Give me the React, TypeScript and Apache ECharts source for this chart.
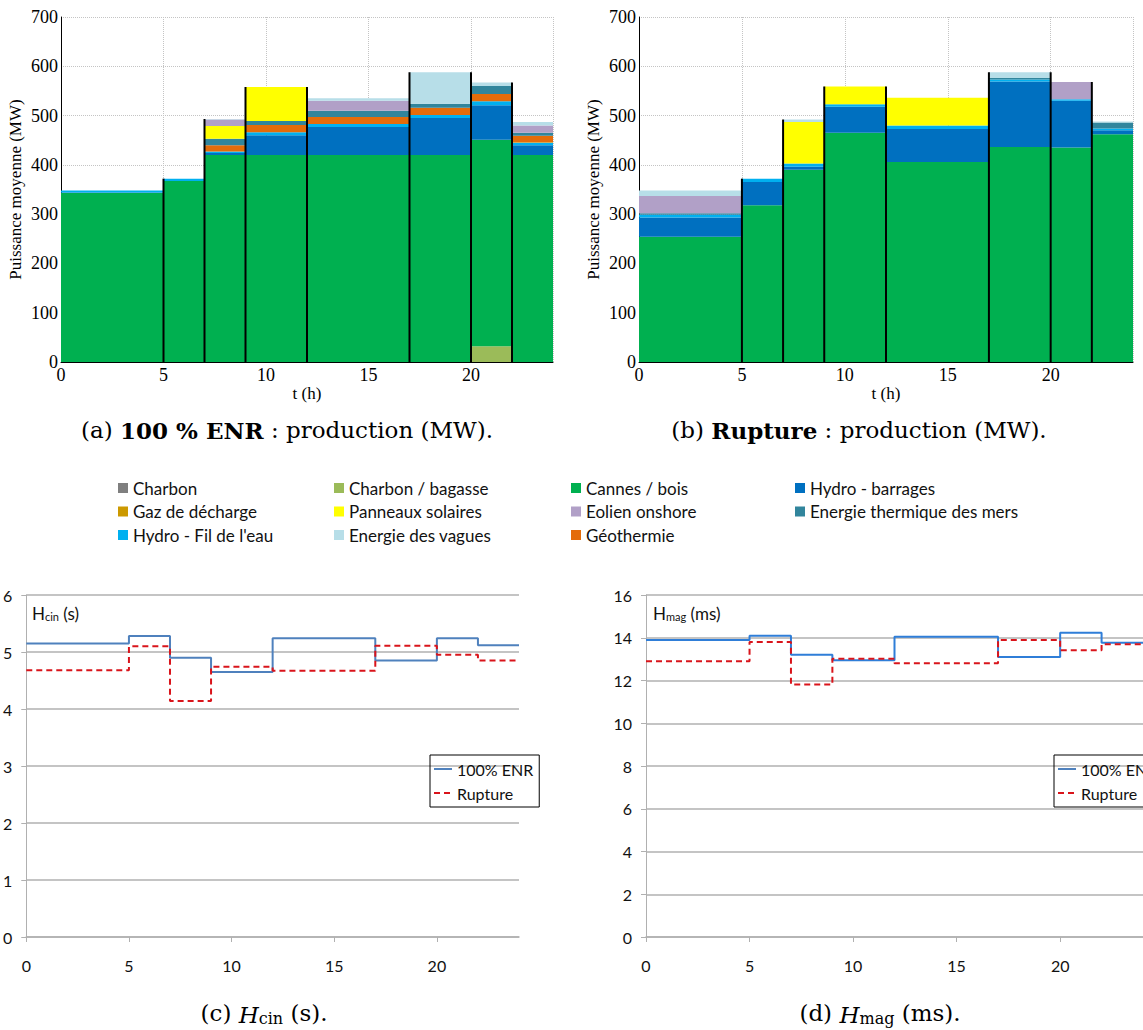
import React, { useEffect, useRef } from "react";
import * as echarts from "echarts";

// Period boundaries (h)
const hours = [0, 5, 7, 9, 12, 17, 20, 22, 24];

// Stack order (bottom -> top)
const energies = [
  "Charbon",
  "Charbon / bagasse",
  "Cannes / bois",
  "Hydro - barrages",
  "Hydro - Fil de l'eau",
  "Gaz de décharge",
  "Géothermie",
  "Energie thermique des mers",
  "Panneaux solaires",
  "Eolien onshore",
  "Energie des vagues",
];

// (a) 100 % ENR production (MW) per period
const enrCharbon = [0, 0, 0, 0, 0, 0, 0, 0];
const enrBagasse = [0, 0, 0, 0, 0, 0, 32, 0];
const enrCannes = [343, 367, 420, 420, 420, 420, 419, 420];
const enrBarrages = [1, 0, 4, 40, 57, 75, 70, 20];
const enrFil = [4, 5, 3, 6, 6, 6, 8, 5];
const enrGaz = [0, 0, 0, 0, 0, 0, 0, 1];
const enrGeo = [0, 0, 13, 15, 14, 15, 15, 13];
const enrEtm = [0, 0, 13, 8, 13, 8, 16, 6];
const enrSolaire = [0, 0, 26, 69, 0, 0, 0, 0];
const enrEolien = [0, 0, 13, 0, 20, 0, 0, 15];
const enrVagues = [0, 0, 1, 0, 5, 64, 7, 7];

// (b) Rupture production (MW) per period
const rupCharbon = [0, 0, 0, 0, 0, 0, 0, 0];
const rupBagasse = [0, 0, 0, 0, 0, 0, 0, 0];
const rupCannes = [254, 318, 390, 465, 406, 436, 435, 462];
const rupBarrages = [39, 47, 6, 53, 67, 133, 95, 8];
const rupFil = [6, 7, 7, 5, 7, 4, 3, 4];
const rupGaz = [0, 0, 0, 0, 0, 0, 0, 0];
const rupGeo = [0, 0, 0, 0, 0, 0, 0, 0];
const rupEtm = [3, 0, 0, 0, 0, 3, 0, 12];
const rupSolaire = [0, 0, 84, 36, 56, 0, 0, 0];
const rupEolien = [35, 0, 0, 0, 0, 0, 35, 0];
const rupVagues = [11, 0, 5, 0, 0, 12, 0, 2];

// (c) H_cin (s)
const hcinEnr = [5.15, 5.28, 4.9, 4.65, 5.24, 4.85, 5.24, 5.12];
const hcinRup = [4.68, 5.1, 4.14, 4.74, 4.67, 5.11, 4.95, 4.85];
// (d) H_mag (ms)
const hmagEnr = [13.89, 14.09, 13.2, 12.95, 14.05, 13.1, 14.23, 13.77];
const hmagRup = [12.9, 13.8, 11.81, 13.02, 12.81, 13.89, 13.42, 13.7];

// Legend layout (columns)
const legendCol1 = ["Charbon", "Gaz de décharge", "Hydro - Fil de l'eau"];
const legendCol2 = ["Charbon / bagasse", "Panneaux solaires", "Energie des vagues"];
const legendCol3 = ["Cannes / bois", "Eolien onshore", "Géothermie"];
const legendCol4 = ["Hydro - barrages", "Energie thermique des mers"];

const energyColors: Record<string, string> = {
  Charbon: "#7f7f7f",
  "Charbon / bagasse": "#9bbb59",
  "Cannes / bois": "#00b050",
  "Hydro - barrages": "#0070c0",
  "Hydro - Fil de l'eau": "#00b0f0",
  "Gaz de décharge": "#cc9900",
  "Géothermie": "#e46c0a",
  "Energie thermique des mers": "#31859c",
  "Panneaux solaires": "#ffff00",
  "Eolien onshore": "#b1a0c7",
  "Energie des vagues": "#b7dee8",
};

const enrLayers = [enrCharbon, enrBagasse, enrCannes, enrBarrages, enrFil, enrGaz, enrGeo, enrEtm, enrSolaire, enrEolien, enrVagues];
const rupLayers = [rupCharbon, rupBagasse, rupCannes, rupBarrages, rupFil, rupGaz, rupGeo, rupEtm, rupSolaire, rupEolien, rupVagues];

const SERIF = "'Liberation Serif', 'Times New Roman', serif";
const CAPSERIF = "'DejaVu Serif', serif";
const SANS = "Lato, 'Noto Sans', sans-serif";

function buildStack(layers: number[][]) {
  const bases = hours.slice(0, -1).map(() => 0);
  return layers.map((layer) =>
    layer.map((v, j) => {
      const b = bases[j];
      bases[j] += v;
      return [hours[j], hours[j + 1], b, b + v];
    })
  );
}

function totals(layers: number[][]) {
  return hours.slice(0, -1).map((_, j) => layers.reduce((s, l) => s + l[j], 0));
}

function stepPoints(values: number[]) {
  const pts: number[][] = [];
  values.forEach((v, j) => {
    pts.push([hours[j], v]);
    pts.push([hours[j + 1], v]);
  });
  return pts;
}

function stackSeries(layers: number[][], gridIdx: number) {
  const stacked = buildStack(layers);
  const series: any[] = energies.map((name, i) => ({
    type: "custom",
    name,
    xAxisIndex: gridIdx,
    yAxisIndex: gridIdx,
    itemStyle: { color: energyColors[name] },
    encode: { x: [0, 1], y: [2, 3] },
    data: stacked[i],
    renderItem: (params: any, api: any) => {
      const x0 = api.value(0);
      const x1 = api.value(1);
      const y0 = api.value(2);
      const y1 = api.value(3);
      if (y1 - y0 <= 0) return null;
      const a = api.coord([x0, y1]);
      const b = api.coord([x1, y0]);
      return {
        type: "rect",
        shape: { x: a[0], y: a[1], width: b[0] - a[0], height: b[1] - a[1] },
        style: { fill: energyColors[name] },
      };
    },
  }));
  const tot = totals(layers);
  const bounds = hours.slice(1, -1).map((h, k) => [h, Math.max(tot[k], tot[k + 1])]);
  series.push({
    type: "custom",
    name: "bounds" + gridIdx,
    xAxisIndex: gridIdx,
    yAxisIndex: gridIdx,
    z: 5,
    encode: { x: 0, y: 1 },
    data: bounds,
    renderItem: (params: any, api: any) => {
      const p0 = api.coord([api.value(0), 0]);
      const p1 = api.coord([api.value(0), api.value(1)]);
      return {
        type: "line",
        shape: { x1: p0[0], y1: p0[1], x2: p1[0], y2: p1[1] },
        style: { stroke: "#000", lineWidth: 2 },
      };
    },
  });
  return series;
}

function topXAxis(gridIndex: number) {
  return {
    type: "value",
    gridIndex,
    min: 0,
    max: 24,
    interval: 5,
    name: "t (h)",
    nameLocation: "middle",
    nameGap: 17,
    nameTextStyle: { fontFamily: SERIF, fontSize: 17, color: "#000" },
    axisLine: { show: true, onZero: false, lineStyle: { color: "#000", width: 1 } },
    axisTick: { show: false },
    axisLabel: { showMaxLabel: false, fontFamily: SERIF, fontSize: 18, color: "#000", margin: 4 },
    splitLine: { show: true, lineStyle: { color: "#c4c4c4", type: "dotted", width: 1 } },
  };
}

function topYAxis(gridIndex: number) {
  return {
    type: "value",
    gridIndex,
    min: 0,
    max: 700,
    interval: 100,
    name: "Puissance moyenne (MW)",
    nameLocation: "middle",
    nameGap: 37,
    nameTextStyle: { fontFamily: SERIF, fontSize: 17, color: "#000" },
    axisLine: { show: true, lineStyle: { color: "#000", width: 1 } },
    axisTick: { show: false },
    axisLabel: { fontFamily: SERIF, fontSize: 18, color: "#000", margin: 3 },
    splitLine: { show: true, lineStyle: { color: "#c4c4c4", type: "dotted", width: 1 } },
  };
}

function botXAxis(gridIndex: number) {
  return {
    type: "value",
    gridIndex,
    min: 0,
    max: 24,
    interval: 5,
    axisLine: { show: true, onZero: false, lineStyle: { color: "#b0b0b0", width: 1.5 } },
    axisTick: { show: true, length: 5, lineStyle: { color: "#b0b0b0" } },
    axisLabel: { showMaxLabel: false, fontFamily: SANS, fontSize: 16, color: "#111", margin: 20 },
    splitLine: { show: false },
  };
}

function botYAxis(gridIndex: number, max: number, interval: number) {
  return {
    type: "value",
    gridIndex,
    min: 0,
    max,
    interval,
    axisLine: { show: true, lineStyle: { color: "#b0b0b0", width: 1 } },
    axisTick: { show: true, length: 5, lineStyle: { color: "#b0b0b0" } },
    axisLabel: { fontFamily: SANS, fontSize: 16, color: "#111", margin: 14 },
    splitLine: { show: true, lineStyle: { color: "#b0b0b0", width: 1.5 } },
  };
}

function lineSeries(gridIndex: number, enr: number[], rup: number[], blue: string) {
  return [
    {
      type: "line",
      name: "100% ENR",
      xAxisIndex: gridIndex,
      yAxisIndex: gridIndex,
      symbol: "none",
      data: stepPoints(enr),
      lineStyle: { color: blue, width: 2 },
      itemStyle: { color: blue },
      z: 3,
    },
    {
      type: "line",
      name: "Rupture",
      xAxisIndex: gridIndex,
      yAxisIndex: gridIndex,
      symbol: "none",
      data: stepPoints(rup),
      lineStyle: { color: "#d9141b", width: 2, type: [6, 4] },
      itemStyle: { color: "#d9141b" },
      z: 4,
    },
  ];
}

function energyLegend(data: string[], left: number) {
  return {
    data,
    orient: "vertical",
    left,
    top: 479,
    padding: 0,
    itemGap: 5.5,
    itemWidth: 10,
    itemHeight: 10,
    icon: "rect",
    selectedMode: false,
    textStyle: { fontFamily: SANS, fontSize: 17, lineHeight: 18, color: "#111" },
  };
}

function lineLegend(left: number) {
  return {
    data: ["100% ENR", "Rupture"],
    orient: "vertical",
    left,
    top: 755,
    padding: [6, 6, 6, 3],
    borderColor: "#000",
    borderWidth: 1,
    itemGap: 8,
    itemWidth: 18,
    itemHeight: 12,
    selectedMode: false,
    itemStyle: { opacity: 0 },
    textStyle: { fontFamily: SANS, fontSize: 16, color: "#111" },
  };
}

const CAPSIZE = 23;
const capStyle = { fontFamily: CAPSERIF, fontSize: CAPSIZE, fill: "#000" };

export default function App() {
  const ref = useRef<HTMLDivElement>(null);
  useEffect(() => {
    if (!ref.current) return;
    const chart = echarts.init(ref.current, undefined, { renderer: "svg" });
    const option: any = {
      animation: false,
      backgroundColor: "#fff",
      grid: [
        { left: 61, top: 17, width: 492, height: 345 },
        { left: 639, top: 17, width: 494, height: 345 },
        { left: 22, top: 595, width: 497, height: 342 },
        { left: 646, top: 595, width: 497, height: 342 },
      ],
      xAxis: [topXAxis(0), topXAxis(1), botXAxis(2), botXAxis(3)],
      yAxis: [topYAxis(0), topYAxis(1), botYAxis(2, 6, 1), botYAxis(3, 16, 2)],
      legend: [
        energyLegend(legendCol1, 118),
        energyLegend(legendCol2, 334),
        energyLegend(legendCol3, 571),
        energyLegend(legendCol4, 795),
        lineLegend(430),
        lineLegend(1054),
      ],
      series: [
        ...stackSeries(enrLayers, 0),
        ...stackSeries(rupLayers, 1),
        ...lineSeries(2, hcinEnr, hcinRup, "#4f81bd"),
        ...lineSeries(3, hmagEnr, hmagRup, "#2f7ed8"),
      ],
      graphic: [
        {
          type: "text",
          x: 287,
          y: 430,
          style: {
            ...capStyle,
            text: "(a) {b|100 % ENR} : production (MW).",
            align: "center",
            verticalAlign: "middle",
            rich: { b: { fontFamily: CAPSERIF, fontSize: CAPSIZE, fontWeight: "bold" } },
          },
        },
        {
          type: "text",
          x: 859,
          y: 430,
          style: {
            ...capStyle,
            text: "(b) {b|Rupture} : production (MW).",
            align: "center",
            verticalAlign: "middle",
            rich: { b: { fontFamily: CAPSERIF, fontSize: CAPSIZE, fontWeight: "bold" } },
          },
        },
        {
          type: "text",
          x: 264,
          y: 1013,
          style: {
            ...capStyle,
            text: "(c) {i|H}{s|cin} (s).",
            align: "center",
            verticalAlign: "middle",
            rich: {
              i: { fontFamily: CAPSERIF, fontSize: CAPSIZE, fontStyle: "italic", verticalAlign: "bottom", lineHeight: 26 },
              s: { fontFamily: CAPSERIF, fontSize: 16, verticalAlign: "bottom", lineHeight: 19 },
            },
          },
        },
        {
          type: "text",
          x: 880,
          y: 1013,
          style: {
            ...capStyle,
            text: "(d) {i|H}{s|mag} (ms).",
            align: "center",
            verticalAlign: "middle",
            rich: {
              i: { fontFamily: CAPSERIF, fontSize: CAPSIZE, fontStyle: "italic", verticalAlign: "bottom", lineHeight: 26 },
              s: { fontFamily: CAPSERIF, fontSize: 16, verticalAlign: "bottom", lineHeight: 19 },
            },
          },
        },
        {
          type: "text",
          x: 32,
          y: 602,
          style: {
            text: "{h|H}{s|cin}{h| (s)}",
            fill: "#111",
            rich: {
              h: { fontFamily: SANS, fontSize: 17, lineHeight: 20, verticalAlign: "bottom", fill: "#111" },
              s: { fontFamily: SANS, fontSize: 11, lineHeight: 12, verticalAlign: "bottom", fill: "#111" },
            },
          },
        },
        {
          type: "text",
          x: 653,
          y: 602,
          style: {
            text: "{h|H}{s|mag}{h| (ms)}",
            fill: "#111",
            rich: {
              h: { fontFamily: SANS, fontSize: 17, lineHeight: 20, verticalAlign: "bottom", fill: "#111" },
              s: { fontFamily: SANS, fontSize: 11, lineHeight: 12, verticalAlign: "bottom", fill: "#111" },
            },
          },
        },
      ],
    };
    chart.setOption(option);
    return () => chart.dispose();
  }, []);
  return (
    <div
      ref={ref}
      style={{ position: "absolute", left: 0, top: 0, width: 1143, height: 1030 }}
    />
  );
}
